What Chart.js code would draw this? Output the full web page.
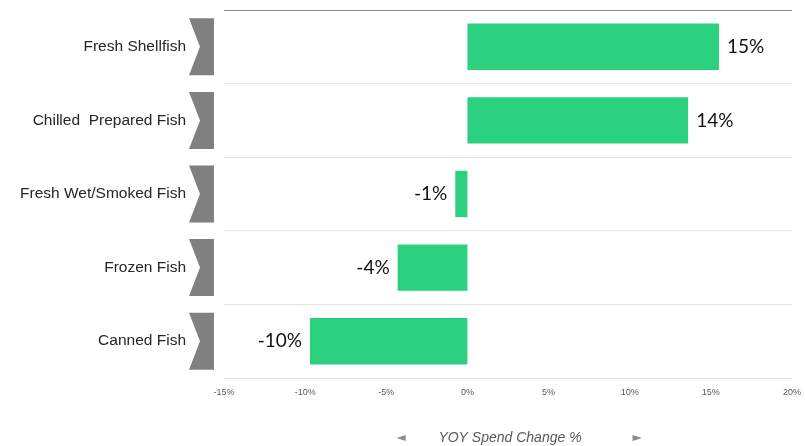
<!DOCTYPE html>
<html lang="en">
<head>
    <meta charset="UTF-8">
    <title>YOY Spend Change</title>
    <script src="https://cdn.jsdelivr.net/npm/chart.js"></script>
    <style>
        body { margin: 0; background: #fff; }
        #wrap { width: 805px; height: 446px; position: relative; }
    </style>
</head>
<body>
    <div id="wrap"><canvas id="chart"></canvas></div>
    <script>
        const categories = ['Fresh Shellfish', 'Chilled  Prepared Fish', 'Fresh Wet/Smoked Fish', 'Frozen Fish', 'Canned Fish'];
        const spendChange = [15.5, 13.6, -0.75, -4.3, -9.7];
        const valueLabels = ['15%', '14%', '-1%', '-4%', '-10%'];
        const axisTitle = 'YOY Spend Change %';

        // grey chevrons + value labels + axis title
        const decorations = {
            id: 'decorations',
            afterDatasetsDraw(chart) {
                const ctx = chart.ctx;
                const meta = chart.getDatasetMeta(0);
                const yScale = chart.scales.y;
                ctx.save();
                // chevrons
                ctx.fillStyle = '#808080';
                categories.forEach((c, i) => {
                    const yc = yScale.getPixelForValue(i);
                    const top = yc - 28.5, bot = yc + 28.5;
                    ctx.beginPath();
                    ctx.moveTo(189, top);
                    ctx.lineTo(214, top);
                    ctx.lineTo(214, bot);
                    ctx.lineTo(189, bot);
                    ctx.lineTo(200, yc);
                    ctx.closePath();
                    ctx.fill();
                });
                // value labels
                ctx.font = '19px Lato, sans-serif';
                ctx.fillStyle = '#111';
                ctx.textBaseline = 'middle';
                meta.data.forEach((bar, i) => {
                    if (spendChange[i] >= 0) {
                        ctx.textAlign = 'left';
                        ctx.fillText(valueLabels[i], bar.x + 8, bar.y);
                    } else {
                        ctx.textAlign = 'right';
                        ctx.fillText(valueLabels[i], bar.x - 8, bar.y);
                    }
                });
                // axis title with arrows
                const area = chart.chartArea;
                const cx = (area.left + area.right) / 2;
                ctx.fillStyle = '#595959';
                ctx.textAlign = 'center';
                ctx.font = 'italic 14px "Liberation Sans", Arial, sans-serif';
                ctx.fillText(axisTitle, cx + 2, 438);
                ctx.fillStyle = '#8c8c8c';
                ctx.font = '12px "DejaVu Sans", sans-serif';
                ctx.fillText('◄', cx - 107, 438);
                ctx.fillText('►', cx + 129, 438);
                ctx.restore();
            }
        };

        new Chart(document.getElementById('chart'), {
            type: 'bar',
            data: {
                labels: categories,
                datasets: [{
                    data: spendChange,
                    backgroundColor: '#2bd17e',
                    barPercentage: 0.63,
                    categoryPercentage: 1
                }]
            },
            plugins: [decorations],
            options: {
                indexAxis: 'y',
                responsive: true,
                maintainAspectRatio: false,
                animation: false,
                layout: { padding: { top: 10, right: 13, bottom: 46, left: 0 } },
                plugins: {
                    legend: { display: false },
                    tooltip: { enabled: false }
                },
                scales: {
                    x: {
                        min: -15,
                        max: 20,
                        afterFit: s => { s.height = 22; },
                        ticks: {
                            stepSize: 5,
                            callback: v => v + '%',
                            font: { family: '"Liberation Sans", Arial, sans-serif', size: 9 },
                            color: '#595959',
                            padding: 1,
                            maxRotation: 0
                        },
                        grid: { display: false },
                        border: { display: false }
                    },
                    y: {
                        afterFit: s => { s.width = 224; s.paddingTop = 0; s.paddingBottom = 0; },
                        ticks: {
                            font: { family: '"Liberation Sans", Arial, sans-serif', size: 15.5 },
                            color: '#262626',
                            padding: 38
                        },
                        grid: {
                            offset: true,
                            drawTicks: false,
                            color: ctx => ctx.index === 0 ? '#8c8c8c' : '#e3e3e3',
                            lineWidth: 1
                        },
                        border: { display: false }
                    }
                }
            }
        });
    </script>
</body>
</html>
